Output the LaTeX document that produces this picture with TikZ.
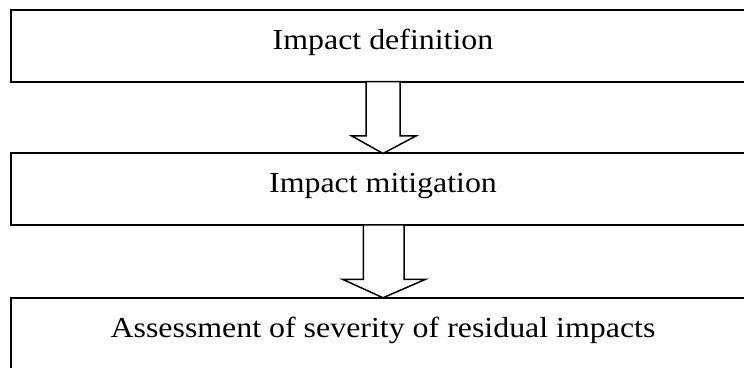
\documentclass[tikz,border=0pt]{standalone}
\usepackage{fontspec}
\setmainfont{Liberation Serif}
\usepackage{graphicx}
\usetikzlibrary{calc}
\begin{document}
\begin{tikzpicture}[x=1bp,y=-1bp,
  stagebox/.style={draw=black, line width=2bp, fill=white, rectangle,
    minimum width=744bp, minimum height=71.5bp, inner sep=0pt, outer sep=0pt,
    text height=19bp, text depth=12bp,
    font=\fontsize{29bp}{33bp}\selectfont},
  blockarrow/.style={draw=black, line width=1.5bp, fill=white, line join=miter}
]
\useasboundingbox (0,0) rectangle (744,367);
\clip (0,0) rectangle (744,367);
\node[stagebox] (b1) at (383,45.8) {\scalebox{1.1}[1]{Impact definition}};
\node[stagebox] (b2) at (383,189.2) {\scalebox{1.1}[1]{Impact mitigation}};
\node[stagebox] (b3) at (383,333.5) {\scalebox{1.1}[1]{Assessment of severity of residual impacts}};
% arrow 1
\draw[blockarrow] ($(b1.south)+(-17,0)$) -- ($(b1.south)+(-17,54.4)$)
  -- ($(b1.south)+(-31.3,54.4)$) -- (b2.north)
  -- ($(b1.south)+(33,54.4)$) -- ($(b1.south)+(17,54.4)$)
  -- ($(b1.south)+(17,0)$) -- cycle;
% arrow 2
\draw[blockarrow] ($(b2.south)+(-19.7,0)$) -- ($(b2.south)+(-19.7,54.3)$)
  -- ($(b2.south)+(-40.5,54.3)$) -- (b3.north)
  -- ($(b2.south)+(42.7,54.3)$) -- ($(b2.south)+(21,54.3)$)
  -- ($(b2.south)+(21,0)$) -- cycle;
\end{tikzpicture}
\end{document}
